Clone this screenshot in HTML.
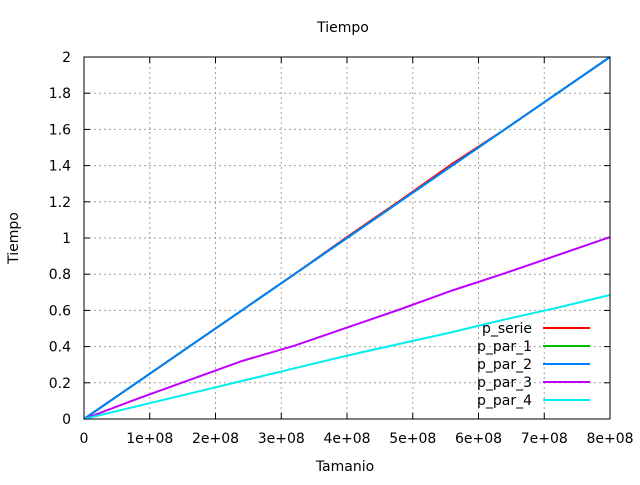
<!DOCTYPE html>
<html><head><meta charset="utf-8"><style>
body{margin:0;background:#fff}
svg{font-family:"DejaVu Sans","Liberation Sans",sans-serif;font-size:14px}
</style></head><body>
<svg id="c" width="640" height="480" xmlns="http://www.w3.org/2000/svg">
<rect width="640" height="480" fill="#fff"/>
<text x="343" y="32" text-anchor="middle">Tiempo</text>
<text x="345" y="471" text-anchor="middle">Tamanio</text>
<text transform="translate(18,238) rotate(-90)" text-anchor="middle">Tiempo</text>
<g id="grid"></g><g id="series"></g><g id="legend"></g>
<rect x="84" y="57" width="526" height="362" fill="none" stroke="#000"/>
</svg>
<script>
const xTicks=[0,1e8,2e8,3e8,4e8,5e8,6e8,7e8,8e8];
const xTickLabels=["0","1e+08","2e+08","3e+08","4e+08","5e+08","6e+08","7e+08","8e+08"];
const yTicks=[0,0.2,0.4,0.6,0.8,1,1.2,1.4,1.6,1.8,2];
const yTickLabels=["0","0.2","0.4","0.6","0.8","1","1.2","1.4","1.6","1.8","2"];
const sizes=[0,0.8e8,1.6e8,2.4e8,3.2e8,4e8,4.8e8,5.6e8,6.4e8,7.2e8,8e8];
const pSerie=[0,0.2,0.4,0.6,0.8,1.005,1.205,1.41,1.6,1.8,2.0];
const pPar1=[0,0.2,0.4,0.6,0.8,1.0,1.2,1.4,1.6,1.8,2.0];
const pPar2=[0,0.2,0.4,0.6,0.8,1.0,1.2,1.4,1.6,1.8,2.0];
const pPar3=[0,0.11,0.215,0.32,0.405,0.505,0.605,0.71,0.805,0.905,1.005];
const pPar4=[0,0.07,0.14,0.21,0.28,0.35,0.415,0.48,0.55,0.615,0.685];
const names=["p_serie","p_par_1","p_par_2","p_par_3","p_par_4"];
const colors=["#ff0000","#00c000","#0080ff","#c000ff","#00eeee"];
const data=[pSerie,pPar1,pPar2,pPar3,pPar4];
const NS="http://www.w3.org/2000/svg";
const X=v=>84+v/8e8*526, Y=v=>419-v/2*362;
function mk(t,a,p){const e=document.createElementNS(NS,t);for(const k in a)e.setAttribute(k,a[k]);p.appendChild(e);return e;}
const g=document.getElementById('grid');
xTicks.forEach((v,i)=>{const x=X(v);
 if(i>0&&i<xTicks.length-1){const l=mk('line',{x1:x,y1:57,x2:x,y2:419,stroke:'#a0a0a0','stroke-dasharray':'2,3'},g);
 }
 mk('line',{x1:x,y1:419,x2:x,y2:413,stroke:'#000'},g);mk('line',{x1:x,y1:57,x2:x,y2:63,stroke:'#000'},g);
 const t=mk('text',{x:x,y:443,'text-anchor':'middle'},g);t.textContent=xTickLabels[i];
 });
yTicks.forEach((v,i)=>{const y=Y(v);
 if(i>0&&i<yTicks.length-1){const l=mk('line',{x1:84,y1:y,x2:610,y2:y,stroke:'#a0a0a0','stroke-dasharray':'2,3'},g);
 }
 mk('line',{x1:84,y1:y,x2:90,y2:y,stroke:'#000'},g);mk('line',{x1:610,y1:y,x2:604,y2:y,stroke:'#000'},g);
 const t=mk('text',{x:71,y:y+5,'text-anchor':'end'},g);t.textContent=yTickLabels[i];
 });
const s=document.getElementById('series'),lg=document.getElementById('legend');
data.forEach((arr,k)=>{
 const p=mk('polyline',{points:arr.map((v,i)=>X(sizes[i])+','+Y(v)).join(' '),fill:'none',stroke:colors[k],'stroke-width':2},s);
 
 const y=328+k*18;
 const t=mk('text',{x:532,y:y+5,'text-anchor':'end'},lg);t.textContent=names[k];
 
 const l=mk('line',{x1:543,y1:y,x2:590,y2:y,stroke:colors[k],'stroke-width':2},lg);
 });
</script>
</body></html>
